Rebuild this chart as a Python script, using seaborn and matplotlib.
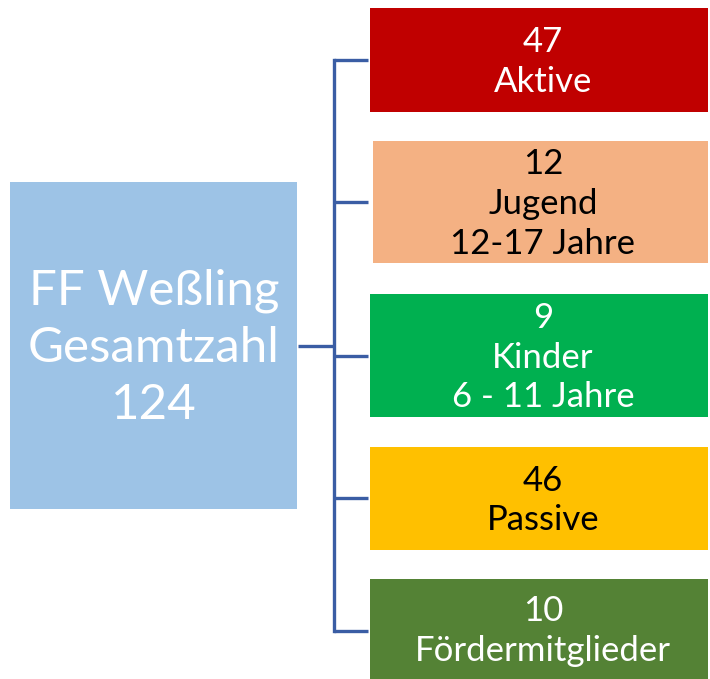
import matplotlib.pyplot as plt
import seaborn as sns

# Data
total_label = "FF Weßling\nGesamtzahl"
total_count = 124
counts = [47, 12, 9, 46, 10]
groups = ["Aktive", "Jugend\n12-17 Jahre", "Kinder\n6 - 11 Jahre", "Passive", "Fördermitglieder"]
box_colors = ["#C00000", "#F4B183", "#00B050", "#FFC000", "#548235"]
text_colors = ["white", "black", "white", "black", "white"]

# Layout (pixel coordinates, y grows downward)
box_tops = [8, 141, 294, 447, 579]
box_bottoms = [112, 263, 417, 550, 679]
box_lefts = [370, 373, 370, 370, 370]
branch_y = [60, 202, 356, 498, 631]
line_color = "#3A5DA4"

sns.set_theme(style="white")
plt.rcParams['font.family'] = ['Lato', 'DejaVu Sans']

fig = plt.figure(figsize=(7.10, 6.79), dpi=100)
ax = fig.add_axes([0, 0, 1, 1])
ax.set_xlim(0, 710)
ax.set_ylim(679, 0)
ax.axis("off")

# Left summary box
ax.add_patch(plt.Rectangle((10, 182), 287, 327, color="#9DC3E6", lw=0))
ax.text(154, 348, f"{total_label}\n{total_count}", ha="center", va="center",
        multialignment="center", fontsize=35.5, color="white", linespacing=1.36)

# Connectors
ax.plot([298, 334], [346, 346], color=line_color, lw=2.4, solid_capstyle="butt")
ax.plot([334, 334], [branch_y[0], branch_y[-1]], color=line_color, lw=2.4,
        solid_capstyle="projecting")
for y in branch_y:
    ax.plot([334, 368], [y, y], color=line_color, lw=2.4, solid_capstyle="butt")

# Group boxes
for i, (n, g) in enumerate(zip(counts, groups)):
    top, bottom, left = box_tops[i], box_bottoms[i], box_lefts[i]
    ax.add_patch(plt.Rectangle((left, top), 708 - left, bottom - top,
                               color=box_colors[i], lw=0))
    ax.text(543, (top + bottom) / 2 + 2, f"{n}\n{g}", ha="center", va="center",
            multialignment="center", fontsize=25, color=text_colors[i],
            linespacing=1.3)

fig.savefig("out.png", dpi=100)
plt.close(fig)
